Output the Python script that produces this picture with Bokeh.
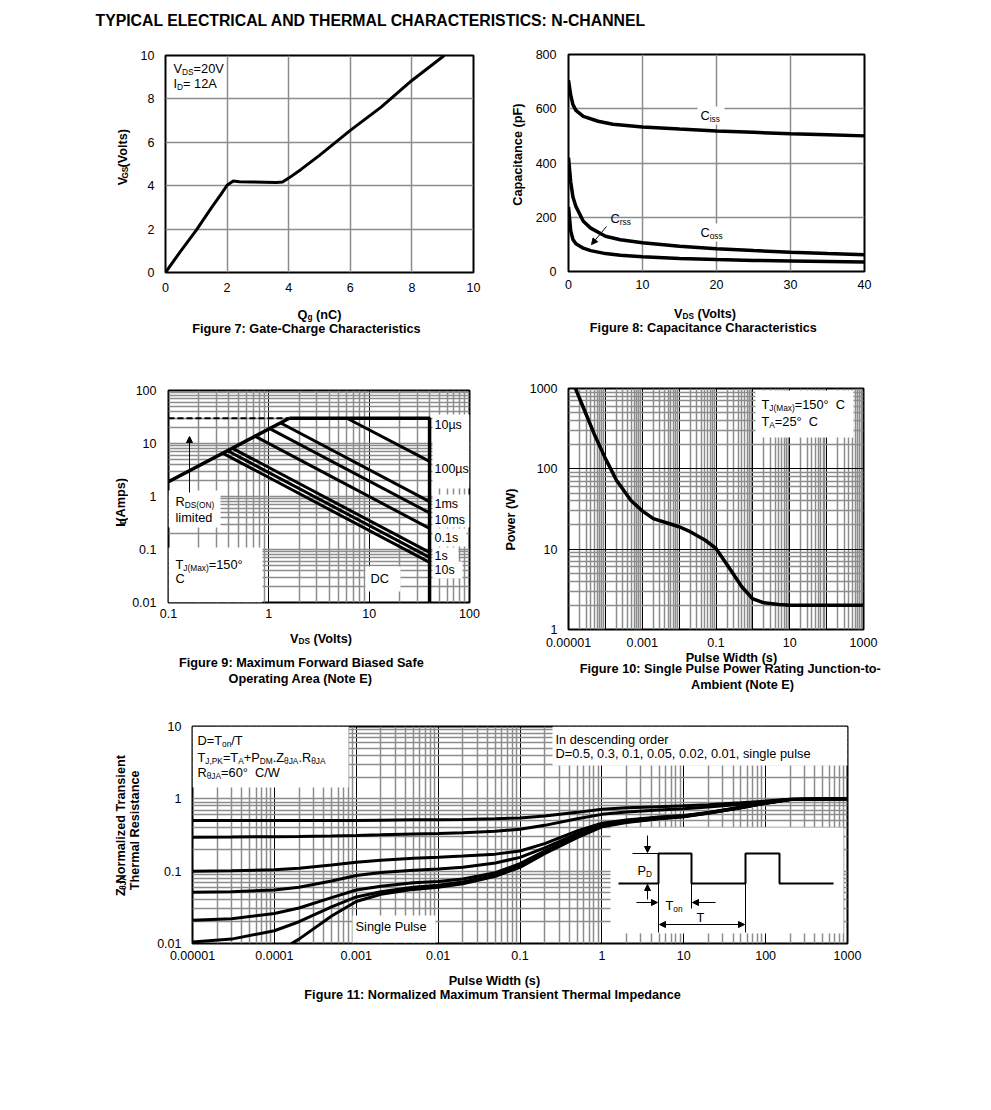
import re
from bokeh.plotting import figure
from bokeh.models import (Range1d, LinearScale, Label, Arrow, NormalHead, FixedTicker,
                          CustomJSTickFormatter)
from bokeh.layouts import column, row
from bokeh.embed import file_html
from bokeh.resources import INLINE

FONT = "Liberation Sans"
TICK_SIZE = 12.5
BOLD_SIZE = 12.7
NOTE_SIZE = 12.8
GRID_GRAY = "#8c8c8c"

TITLE = "TYPICAL ELECTRICAL AND THERMAL CHARACTERISTICS: N-CHANNEL"

# ---------------- Figure 7: gate charge ----------------
qg_nc = [0, 0.5, 1.0, 1.5, 1.8, 2.0, 2.2, 2.4, 2.8, 3.2, 3.6, 3.8, 4.0, 4.4, 5.0, 6.0, 7.0, 8.0, 9.05]
vgs_v = [0, 1.0, 1.95, 3.0, 3.6, 4.02, 4.22, 4.18, 4.17, 4.16, 4.15, 4.17, 4.35, 4.75, 5.4, 6.55, 7.62, 8.85, 10.0]
fig7_xticks = [0, 2, 4, 6, 8, 10]
fig7_xlabels = ["0", "2", "4", "6", "8", "10"]
fig7_yticks = [0, 2, 4, 6, 8, 10]
fig7_ylabels = ["0", "2", "4", "6", "8", "10"]

# ---------------- Figure 8: capacitance ----------------
ciss_vds = [0, 0.3, 0.6, 1, 2, 4, 6, 10, 15, 20, 25, 30, 35, 40]
ciss_pf = [705, 650, 615, 594, 572, 554, 543, 533, 525, 518, 513, 508, 504, 500]
coss_vds = [0, 0.3, 0.6, 1, 2, 3, 5, 7, 10, 15, 20, 25, 30, 35, 40]
coss_pf = [420, 330, 275, 240, 185, 160, 130, 117, 106, 93, 84, 77, 71, 66, 62]
crss_vds = [0, 0.3, 0.6, 1, 2, 3, 5, 7, 10, 15, 20, 25, 30, 35, 40]
crss_pf = [238, 150, 118, 102, 86, 77, 66, 60, 54, 48, 44, 41, 39, 37, 35]
fig8_xticks = [0, 10, 20, 30, 40]
fig8_xlabels = ["0", "10", "20", "30", "40"]
fig8_yticks = [0, 200, 400, 600, 800]
fig8_ylabels = ["0", "200", "400", "600", "800"]

# ---------------- Figure 9: SOA ----------------
rds_vds = [0.1, 1.6]
rds_id = [1.9, 30]
dash_vds = [0.1, 1.6]
dash_id = [30, 30]
limit_vds = [1.6, 40, 40]
limit_id = [30, 30, 0.01]
soa_names = ["10\u00b5s", "100\u00b5s", "1ms", "10ms", "0.1s", "1s", "10s"]
soa_vds_start = [6.0, 1.3, 1.01, 0.725, 0.43, 0.387, 0.346]
soa_id_start = [30, 24.6, 19.3, 13.8, 8.2, 7.3, 6.6]
soa_vds_end = [40, 40, 40, 40, 40, 40, 40]
soa_id_end = [4.6, 0.8, 0.49, 0.25, 0.088, 0.071, 0.057]
fig9_xticks = [0.1, 1, 10, 100]
fig9_xlabels = ["0.1", "1", "10", "100"]
fig9_yticks = [0.01, 0.1, 1, 10, 100]
fig9_ylabels = ["0.01", "0.1", "1", "10", "100"]

# ---------------- Figure 10: single pulse power ----------------
pw_s = [1.55e-5, 2e-5, 3e-5, 5e-5, 1e-4, 2e-4, 5e-4, 1e-3, 2e-3, 5e-3, 1e-2, 2e-2,
        5e-2, 0.1, 0.2, 0.5, 1, 2, 5, 10, 100, 1000]
power_w = [1000, 750, 478, 270, 135, 72, 40, 30, 24, 21, 19, 16.5,
           13, 10.2, 6.4, 3.4, 2.4, 2.15, 2.05, 2.0, 2.0, 2.0]
fig10_xticks = [1e-5, 1e-3, 1e-1, 10, 1000]
fig10_xlabels = ["0.00001", "0.001", "0.1", "10", "1000"]
fig10_yticks = [1, 10, 100, 1000]
fig10_ylabels = ["1", "10", "100", "1000"]

# ---------------- Figure 11: transient thermal impedance ----------------
zt_s = [1e-5, 3e-5, 1e-4, 2e-4, 5e-4, 1e-3, 2e-3, 5e-3, 1e-2, 2e-2, 5e-2, 0.1, 0.2, 0.5,
        1, 2, 5, 10, 20, 50, 100, 200, 1000]
z_d05 = [0.50, 0.50, 0.50, 0.50, 0.50, 0.503, 0.507, 0.512, 0.515, 0.52, 0.53, 0.545, 0.58, 0.65,
         0.72, 0.75, 0.78, 0.80, 0.83, 0.88, 0.93, 0.99, 1.0]
z_d03 = [0.295, 0.297, 0.30, 0.302, 0.307, 0.312, 0.318, 0.327, 0.333, 0.34, 0.355, 0.38, 0.43, 0.53,
         0.61, 0.66, 0.70, 0.73, 0.77, 0.84, 0.91, 0.99, 1.0]
z_d01 = [0.10, 0.101, 0.105, 0.11, 0.122, 0.133, 0.142, 0.151, 0.156, 0.162, 0.172, 0.19, 0.24, 0.36,
         0.46, 0.51, 0.56, 0.59, 0.65, 0.77, 0.88, 0.98, 1.0]
z_d005 = [0.051, 0.052, 0.055, 0.06, 0.073, 0.087, 0.096, 0.103, 0.107, 0.113, 0.13, 0.155, 0.21, 0.33,
          0.44, 0.50, 0.55, 0.58, 0.64, 0.76, 0.88, 0.98, 1.0]
z_d002 = [0.021, 0.022, 0.026, 0.031, 0.043, 0.055, 0.062, 0.069, 0.072, 0.078, 0.095, 0.127, 0.19, 0.31,
          0.43, 0.49, 0.54, 0.575, 0.64, 0.76, 0.87, 0.98, 1.0]
z_d001 = [0.0105, 0.0115, 0.015, 0.020, 0.032, 0.044, 0.052, 0.060, 0.064, 0.071, 0.088, 0.118, 0.18, 0.30,
          0.42, 0.48, 0.535, 0.57, 0.635, 0.755, 0.87, 0.98, 1.0]
sp_s = [1.6e-4, 2e-4, 5e-4, 1e-3, 2e-3, 5e-3, 1e-2, 2e-2, 5e-2, 0.1, 0.2, 0.5, 1, 2, 5, 10, 20, 50,
        100, 200, 1000]
z_single = [0.0099, 0.0115, 0.024, 0.038, 0.048, 0.056, 0.060, 0.067, 0.085, 0.113, 0.175, 0.29, 0.41,
            0.47, 0.53, 0.565, 0.63, 0.75, 0.87, 0.98, 1.0]
fig11_xticks = [1e-5, 1e-4, 1e-3, 1e-2, 1e-1, 1, 10, 100, 1000]
fig11_xlabels = ["0.00001", "0.0001", "0.001", "0.01", "0.1", "1", "10", "100", "1000"]
fig11_yticks = [0.01, 0.1, 1, 10]
fig11_ylabels = ["0.01", "0.1", "1", "10"]

# inset pulse schematic (page-pixel layout of the drawing)
pulse_px = [618, 658, 658, 691, 691, 745, 745, 779, 779, 833]
pulse_py = [883, 883, 853, 853, 883, 883, 853, 853, 883, 883]

# ---------------- text width helper (Arial / Liberation metrics) ----------------
REG = {' ': 278, '(': 333, ')': 333, '+': 584, ',': 278, '-': 333, '.': 278, '/': 278, ':': 278,
       '=': 584, '\u00b0': 400, '\u00b5': 556, '\u03b8': 556,
       'A': 667, 'B': 667, 'C': 722, 'D': 722, 'E': 667, 'F': 611, 'G': 778, 'H': 722, 'I': 278,
       'J': 500, 'K': 667, 'L': 556, 'M': 833, 'N': 722, 'O': 778, 'P': 667, 'Q': 778, 'R': 722,
       'S': 667, 'T': 611, 'U': 722, 'V': 667, 'W': 944, 'X': 667, 'Y': 667, 'Z': 611,
       'a': 556, 'b': 556, 'c': 500, 'd': 556, 'e': 556, 'f': 278, 'g': 556, 'h': 556, 'i': 222,
       'j': 222, 'k': 500, 'l': 222, 'm': 833, 'n': 556, 'o': 556, 'p': 556, 'q': 556, 'r': 333,
       's': 500, 't': 278, 'u': 556, 'v': 500, 'w': 722, 'x': 500, 'y': 500, 'z': 500}
BOLD = {' ': 278, '(': 333, ')': 333, '-': 333, ':': 333, '.': 278, ',': 278, '=': 584,
        '\u00b0': 400, '\u03b8': 611,
        'A': 722, 'B': 722, 'C': 722, 'D': 722, 'E': 667, 'F': 611, 'G': 778, 'H': 722, 'I': 278,
        'J': 556, 'K': 722, 'L': 611, 'M': 833, 'N': 722, 'O': 778, 'P': 667, 'Q': 778, 'R': 722,
        'S': 667, 'T': 611, 'U': 722, 'V': 667, 'W': 944, 'X': 667, 'Y': 667, 'Z': 611,
        'a': 556, 'b': 611, 'c': 556, 'd': 611, 'e': 556, 'f': 333, 'g': 611, 'h': 611, 'i': 278,
        'j': 278, 'k': 556, 'l': 278, 'm': 889, 'n': 611, 'o': 611, 'p': 611, 'q': 611, 'r': 389,
        's': 556, 't': 333, 'u': 611, 'v': 556, 'w': 778, 'x': 556, 'y': 556, 'z': 500}


def tw(s, size, bold):
    t = BOLD if bold else REG
    return sum(t.get(c, 556) for c in s) * size / 1000.0


def add_text(p, parts, x, y, size, bold=False, align="left", vertical=False):
    """parts: list of (text, is_subscript); x, y: page pixel of the visual centre line.
    Leading spaces and runs of 2+ spaces become explicit gaps (SVG would collapse them)."""
    sub = size * 0.65
    ws = [tw(t, sub if s else size, bold) for t, s in parts]
    total = sum(ws)
    off = {"left": 0.0, "center": -total / 2.0, "right": -total}[align]
    for (t, s), w in zip(parts, ws):
        fs = sub if s else size
        drop = size * 0.24 if s else 0.0
        for m in re.finditer(r"\S+(?: \S+)*", t):
            seg = m.group(0)
            seg_off = off + tw(t[:m.start()], fs, bold)
            common = dict(text=seg, x_range_name="px", y_range_name="px", text_font=FONT,
                          text_font_size=f"{fs:.2f}px",
                          text_font_style="bold" if bold else "normal", text_color="black")
            if vertical:
                mid = seg_off + tw(seg, fs, bold) / 2.0
                p.add_layout(Label(x=x + drop, y=y - mid, angle=1.5707963267948966,
                                   text_align="center", text_baseline="middle", **common))
            else:
                p.add_layout(Label(x=x + seg_off, y=y + drop, angle=0.0,
                                   text_align="left", text_baseline="alphabetic", **common))
        off += w


def white_box(p, l, r, t, b):
    p.quad(left=[l], right=[r], top=[t], bottom=[b], x_range_name="px", y_range_name="px",
           fill_color="white", line_color=None)


def arrow(p, x0, y0, x1, y1, both=False):
    head = dict(size=6, fill_color="black", line_color="black", line_width=1)
    p.add_layout(Arrow(x_start=x0, y_start=y0, x_end=x1, y_end=y1, x_range_name="px",
                       y_range_name="px", line_color="black", line_width=1,
                       end=NormalHead(**head), start=NormalHead(**head) if both else None))


JS_FMT = """
for (let i = 0; i < tv.length; i++) {
  if (Math.abs(tv[i] - tick) <= 1e-9 * Math.max(1e-300, Math.abs(tv[i]))) { return tl[i]; }
}
return "";
"""


def set_ticks(axis, ticks, labels):
    axis.ticker = FixedTicker(ticks=ticks)
    axis.formatter = CustomJSTickFormatter(args=dict(tv=ticks, tl=labels), code=JS_FMT)


def decades(lo, hi):
    return [10.0 ** k for k in range(lo, hi + 1)]


def minors(lo, hi):
    return [m * 10.0 ** k for k in range(lo, hi) for m in range(2, 10)]


def px_ranges(p, x0, x1, ybot, ytop):
    p.extra_x_ranges = {"px": Range1d(x0, x1)}
    p.extra_y_ranges = {"px": Range1d(ybot, ytop)}
    p.extra_x_scales = {"px": LinearScale()}
    p.extra_y_scales = {"px": LinearScale()}


def make_fig(px0, py0, W, H, frame, xr, yr, xt="linear", yt="linear", xstand=8, ystand=11):
    fl, ft, fr, fb = frame
    p = figure(width=W, height=H, x_range=Range1d(*xr), y_range=Range1d(*yr),
               x_axis_type=xt, y_axis_type=yt, toolbar_location=None, output_backend="svg",
               min_border_left=fl - px0, min_border_right=px0 + W - fr,
               min_border_top=ft - py0, min_border_bottom=py0 + H - fb)
    px_ranges(p, fl, fr, fb, ft)
    p.outline_line_color = "black"
    p.outline_line_width = 2
    p.border_fill_color = "white"
    p.background_fill_color = "white"
    for ax in (p.xaxis[0], p.yaxis[0]):
        ax.axis_line_color = None
        ax.major_tick_line_color = None
        ax.minor_tick_line_color = None
        ax.major_tick_out = 0
        ax.major_tick_in = 0
        ax.minor_tick_out = 0
        ax.minor_tick_in = 0
        ax.major_label_text_font = FONT
        ax.major_label_text_font_size = f"{TICK_SIZE}px"
        ax.major_label_text_color = "black"
    p.xaxis[0].major_label_standoff = xstand
    p.yaxis[0].major_label_standoff = ystand
    return p


def make_text_fig(x0, y0, W, H):
    """A bare canvas (frame = whole canvas) used for texts around the charts; page-pixel coords."""
    p = figure(width=W, height=H, x_range=Range1d(x0, x0 + W), y_range=Range1d(y0 + H, y0),
               toolbar_location=None, output_backend="svg", x_axis_location=None,
               y_axis_location=None, min_border=0, min_border_left=0, min_border_right=0,
               min_border_top=0, min_border_bottom=0)
    px_ranges(p, x0, x0 + W, y0 + H, y0)
    p.outline_line_color = None
    p.grid.visible = False
    p.border_fill_color = "white"
    p.background_fill_color = "white"
    return p


def log_grid(p, xdec, ydec, x_major="black", y_major=GRID_GRAY):
    p.xgrid.ticker = FixedTicker(ticks=decades(*xdec), minor_ticks=minors(*xdec))
    p.ygrid.ticker = FixedTicker(ticks=decades(*ydec), minor_ticks=minors(*ydec))
    p.xgrid.grid_line_color = x_major
    p.xgrid.grid_line_width = 1 if x_major == "black" else 1.5
    p.ygrid.grid_line_color = y_major
    p.ygrid.grid_line_width = 1 if y_major == "black" else 1.5
    for g in (p.xgrid, p.ygrid):
        g.minor_grid_line_color = GRID_GRAY
        g.minor_grid_line_width = 1.5


# ================= Title =================
t0 = make_text_fig(0, 0, 990, 40)
add_text(t0, [(TITLE, 0)], 95, 20, 15.8, bold=True)

# ================= Figure 7 =================
y7 = make_text_fig(0, 40, 132, 260)
p7 = make_fig(132, 40, 358, 260, (165, 55, 473, 272), (0, 10), (0, 10), xstand=10, ystand=11)
b7 = make_text_fig(0, 300, 490, 45)
set_ticks(p7.xaxis[0], fig7_xticks, fig7_xlabels)
set_ticks(p7.yaxis[0], fig7_yticks, fig7_ylabels)
p7.grid.grid_line_color = GRID_GRAY
p7.grid.grid_line_width = 1.5
p7.line(qg_nc, vgs_v, line_color="black", line_width=3)
add_text(p7, [("V", 0), ("DS", 1), ("=20V", 0)], 173, 68, NOTE_SIZE)
add_text(p7, [("I", 0), ("D", 1), ("= 12A", 0)], 173, 83, NOTE_SIZE)
add_text(b7, [("Q", 0), ("g", 1), (" (nC)", 0)], 319, 314, BOLD_SIZE, bold=True, align="center")
add_text(b7, [("Figure 7: Gate-Charge Characteristics", 0)], 306, 328, BOLD_SIZE, bold=True, align="center")
add_text(y7, [("V", 0), ("GS", 1), (" (Volts)", 0)], 122, 163, BOLD_SIZE, bold=True, align="center", vertical=True)

# ================= Figure 8 =================
y8 = make_text_fig(490, 40, 38, 260)
p8 = make_fig(528, 40, 462, 260, (568, 54, 864, 271), (0, 40), (0, 800), xstand=8, ystand=12)
b8 = make_text_fig(490, 300, 500, 45)
set_ticks(p8.xaxis[0], fig8_xticks, fig8_xlabels)
set_ticks(p8.yaxis[0], fig8_yticks, fig8_ylabels)
p8.grid.grid_line_color = GRID_GRAY
p8.grid.grid_line_width = 1.5
white_box(p8, 697, 724, 106, 124)
white_box(p8, 697, 728, 223, 241)
p8.line(ciss_vds, ciss_pf, line_color="black", line_width=3.5)
p8.line(coss_vds, coss_pf, line_color="black", line_width=3.5)
p8.line(crss_vds, crss_pf, line_color="black", line_width=3.5)
add_text(p8, [("C", 0), ("iss", 1)], 700, 115, NOTE_SIZE)
add_text(p8, [("C", 0), ("rss", 1)], 610, 218, NOTE_SIZE)
add_text(p8, [("C", 0), ("oss", 1)], 700, 232, NOTE_SIZE)
arrow(p8, 606, 226, 591, 244)
add_text(b8, [("V", 0), ("DS", 1), (" (Volts)", 0)], 705, 313, BOLD_SIZE, bold=True, align="center")
add_text(b8, [("Figure 8: Capacitance Characteristics", 0)], 703, 327, BOLD_SIZE, bold=True, align="center")
add_text(y8, [("Capacitance (pF)", 0)], 517, 160, BOLD_SIZE, bold=True, align="center", vertical=True)

# ================= Figure 9 =================
y9 = make_text_fig(0, 345, 128, 280)
p9 = make_fig(128, 345, 362, 280, (168, 390, 469, 602), (0.1, 100), (0.01, 100), "log", "log",
              xstand=6, ystand=12)
b9 = make_text_fig(0, 625, 490, 80)
set_ticks(p9.xaxis[0], fig9_xticks, fig9_xlabels)
set_ticks(p9.yaxis[0], fig9_yticks, fig9_ylabels)
log_grid(p9, (-1, 2), (-2, 2))
for bx in [(168, 220, 490, 527), (168, 262, 547, 602), (365, 400, 566, 591),
           (432, 469, 414, 488), (432, 469, 494, 527), (432, 466, 528, 546),
           (432, 458, 547, 562), (432, 462, 561, 578)]:
    white_box(p9, *bx)
p9.line(dash_vds, dash_id, line_color="black", line_width=2, line_dash="6 3")
p9.line(rds_vds, rds_id, line_color="black", line_width=3.5)
p9.line(limit_vds, limit_id, line_color="black", line_width=3.5)
for i in range(len(soa_names)):
    p9.line([soa_vds_start[i], soa_vds_end[i]], [soa_id_start[i], soa_id_end[i]],
            line_color="black", line_width=3)
arrow(p9, 189, 492, 189, 436)
label9_y = [424, 468, 503, 519, 537, 555, 569]
for name, yy in zip(soa_names, label9_y):
    add_text(p9, [(name, 0)], 434, yy, 12.5)
add_text(p9, [("DC", 0)], 370, 578, NOTE_SIZE)
add_text(p9, [("R", 0), ("DS(ON)", 1)], 175, 501, NOTE_SIZE)
add_text(p9, [("limited", 0)], 175, 517, NOTE_SIZE)
add_text(p9, [("T", 0), ("J(Max)", 1), ("=150\u00b0", 0)], 175, 564, NOTE_SIZE)
add_text(p9, [("C", 0)], 175, 578, NOTE_SIZE)
add_text(b9, [("V", 0), ("DS", 1), (" (Volts)", 0)], 321, 638, BOLD_SIZE, bold=True, align="center")
add_text(b9, [("Figure 9: Maximum Forward Biased Safe", 0)], 301, 662, BOLD_SIZE, bold=True, align="center")
add_text(b9, [("Operating Area (Note E)", 0)], 300, 678, BOLD_SIZE, bold=True, align="center")
add_text(y9, [("I", 0), ("D", 1), (" (Amps)", 0)], 120, 496, BOLD_SIZE, bold=True, align="center", vertical=True)

# ================= Figure 10 =================
y10 = make_text_fig(490, 345, 36, 307)
p10 = make_fig(526, 345, 464, 307, (568, 388, 863, 629), (1e-5, 1000), (1, 1000), "log", "log",
               xstand=8, ystand=11)
b10 = make_text_fig(490, 652, 500, 53)
set_ticks(p10.xaxis[0], fig10_xticks, fig10_xlabels)
set_ticks(p10.yaxis[0], fig10_yticks, fig10_ylabels)
log_grid(p10, (-5, 3), (0, 3), x_major="black", y_major="black")
white_box(p10, 755, 853, 390, 437)
p10.line(pw_s, power_w, line_color="black", line_width=3.5)
add_text(p10, [("T", 0), ("J(Max)", 1), ("=150\u00b0  C", 0)], 761, 404, NOTE_SIZE)
add_text(p10, [("T", 0), ("A", 1), ("=25\u00b0  C", 0)], 761, 421, NOTE_SIZE)
add_text(b10, [("Pulse Width (s)", 0)], 731, 657, BOLD_SIZE, bold=True, align="center")
add_text(b10, [("Figure 10: Single Pulse Power Rating Junction-to-", 0)], 730, 668, BOLD_SIZE, bold=True, align="center")
add_text(b10, [("Ambient (Note E)", 0)], 742, 684, BOLD_SIZE, bold=True, align="center")
add_text(y10, [("Power (W)", 0)], 510, 512, BOLD_SIZE, bold=True, align="center", vertical=True)

# ================= Figure 11 =================
y11 = make_text_fig(0, 705, 146, 261)
p11 = make_fig(146, 705, 844, 261, (192, 726, 847, 943), (1e-5, 1000), (0.01, 10), "log", "log",
               xstand=7, ystand=11)
b11 = make_text_fig(0, 966, 990, 44)
set_ticks(p11.xaxis[0], fig11_xticks, fig11_xlabels)
set_ticks(p11.yaxis[0], fig11_yticks, fig11_ylabels)
log_grid(p11, (-5, 3), (-2, 1))
for bx in [(192, 348, 726, 787), (552, 847, 726, 765), (352, 435, 915, 942), (610, 843, 827, 933)]:
    white_box(p11, *bx)
for ys in (z_d05, z_d03, z_d01, z_d005, z_d002, z_d001):
    p11.line(zt_s, ys, line_color="black", line_width=3)
p11.line(sp_s, z_single, line_color="black", line_width=3)
# pulse schematic
p11.line(pulse_px, pulse_py, x_range_name="px", y_range_name="px", line_color="black", line_width=2)
p11.segment(x0=[632, 658, 691, 745], y0=[853, 883, 883, 883], x1=[658, 658, 691, 745], y1=[853, 932, 908, 932],
            x_range_name="px", y_range_name="px", line_color="black", line_width=1)
arrow(p11, 647, 835, 647, 852)
arrow(p11, 647, 899, 647, 884)
arrow(p11, 636, 902, 657, 902)
arrow(p11, 715, 902, 692, 902)
arrow(p11, 659, 924, 744, 924, both=True)
add_text(p11, [("P", 0), ("D", 1)], 637, 870, NOTE_SIZE)
add_text(p11, [("T", 0), ("on", 1)], 665, 905, NOTE_SIZE)
add_text(p11, [("T", 0)], 700, 917, NOTE_SIZE, align="center")
add_text(p11, [("D=T", 0), ("on", 1), ("/T", 0)], 197, 740, NOTE_SIZE)
add_text(p11, [("T", 0), ("J,PK", 1), ("=T", 0), ("A", 1), ("+P", 0), ("DM", 1), (".Z", 0),
               ("\u03b8JA", 1), (".R", 0), ("\u03b8JA", 1)], 197, 757, NOTE_SIZE)
add_text(p11, [("R", 0), ("\u03b8JA", 1), ("=60\u00b0  C/W", 0)], 197, 772, NOTE_SIZE)
add_text(p11, [("In descending order", 0)], 555, 739, NOTE_SIZE)
add_text(p11, [("D=0.5, 0.3, 0.1, 0.05, 0.02, 0.01, single pulse", 0)], 555, 753, NOTE_SIZE)
add_text(p11, [("Single Pulse", 0)], 355, 926, NOTE_SIZE)
add_text(b11, [("Pulse Width (s)", 0)], 494, 980, BOLD_SIZE, bold=True, align="center")
add_text(b11, [("Figure 11: Normalized Maximum Transient Thermal Impedance", 0)], 493, 994,
         BOLD_SIZE, bold=True, align="center")
add_text(y11, [("Z", 0), ("\u03b8JA", 1), (" Normalized Transient", 0)], 120, 830, BOLD_SIZE,
         bold=True, align="center", vertical=True)
add_text(y11, [("Thermal Resistance", 0)], 134, 830, BOLD_SIZE, bold=True, align="center", vertical=True)

# ================= page =================
blk7 = column(row(y7, p7), b7)
blk8 = column(row(y8, p8), b8)
blk9 = column(row(y9, p9), b9)
blk10 = column(row(y10, p10), b10)
blk11 = column(row(y11, p11), b11)
layout = column(t0, row(blk7, blk8), row(blk9, blk10), blk11)

open("out.html", "w").write(file_html(layout, INLINE, "Typical characteristics"))
